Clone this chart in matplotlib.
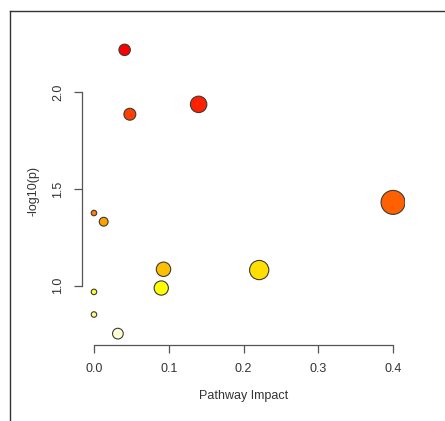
import numpy as np
import matplotlib
matplotlib.use('Agg')
import matplotlib.pyplot as plt
from matplotlib.lines import Line2D

plt.rcParams['font.family'] = ['Liberation Sans', 'DejaVu Sans']

# pathway impact vs -log10(p)
impact = [0.041, 0.140, 0.048, 0.0, 0.013, 0.400, 0.093, 0.221, 0.090, 0.0, 0.0, 0.032]
neglogp = [2.220, 1.938, 1.887, 1.376, 1.331, 1.431, 1.085, 1.081, 0.988, 0.968, 0.851, 0.752]
point_colors = ['#FF0000', '#FF2000', '#FF4000', '#FF8000', '#FF9F00', '#FF6000',
                '#FFBF00', '#FFDF00', '#FFFF00', '#FFFF2A', '#FFFF80', '#FFFFD5']
x_ticks = [0.0, 0.1, 0.2, 0.3, 0.4]
y_ticks = [1.0, 1.5, 2.0]

W, H = 445, 421
fig = plt.figure(figsize=(W / 100, H / 100), dpi=100)
ax = fig.add_axes([82 / W, 1 - 345 / H, 323 / W, 306.5 / H])

x = np.array(impact)
y = np.array(neglogp)
# circle diameter grows with sqrt of impact (pixels -> points)
diam = (5.5 + 29.2 * np.sqrt(x)) * 0.72
ax.scatter(x, y, s=diam ** 2, c=point_colors, edgecolors='#3a3a3a', linewidths=0.8, zorder=3)

xr = x.max() - x.min()
yr = y.max() - y.min()
ax.set_xlim(x.min() - 0.04 * xr, x.max() + 0.04 * xr)
ax.set_ylim(y.min() - 0.04 * yr, y.max() + 0.04 * yr)

for s in ['top', 'right']:
    ax.spines[s].set_visible(False)
ax.spines['left'].set_bounds(y_ticks[0], y_ticks[-1])
ax.spines['bottom'].set_bounds(x_ticks[0], x_ticks[-1])
for s in ['left', 'bottom']:
    ax.spines[s].set_color('#555555')
    ax.spines[s].set_linewidth(0.9)

ax.set_xticks(x_ticks)
ax.set_xticklabels(['%.1f' % t for t in x_ticks])
ax.set_yticks(y_ticks)
ax.set_yticklabels(['%.1f' % t for t in y_ticks], rotation=90, va='center')
ax.tick_params(length=5.5, width=0.9, color='#555555', labelcolor='#333333',
               labelsize=9, pad=7.5)

ax.set_xlabel('Pathway Impact', fontsize=9, color='#333333')
ax.set_ylabel('-log10(p)', fontsize=9, color='#333333')
ax.xaxis.set_label_coords(0.5, -(395.5 - 345) / 306.5, transform=ax.transAxes)
ax.yaxis.set_label_coords(-(82 - 33.5) / 323, (345 - 191.5) / 306.5)
ax.xaxis.label.set_va('center')
ax.yaxis.label.set_va('center')

# outer frame (cropped box)
fx = 9.5 / W
fy = 1 - 11 / H
fig.add_artist(Line2D([fx, fx], [-0.05, fy], transform=fig.transFigure, color='#333333', lw=1.0))
fig.add_artist(Line2D([fx, 1.05], [fy, fy], transform=fig.transFigure, color='#333333', lw=1.0))

fig.savefig('out.png', dpi=100)
